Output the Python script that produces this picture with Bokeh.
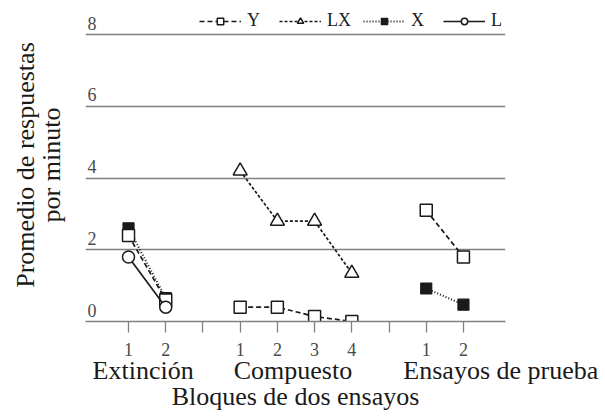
from bokeh.plotting import figure
from bokeh.models import (Range1d, FixedTicker, Legend, LegendItem, LinearAxis)
from bokeh.core.properties import value
from bokeh.embed import file_html
from bokeh.resources import INLINE

# ---- data ----
ext_x = [1, 2]
comp_x = [4, 5, 6, 7]
test_x = [9, 10]

y_ext = [2.4, 0.6]
y_comp = [0.4, 0.4, 0.14, 0.0]
y_test = [3.1, 1.8]
lx_comp = [4.2, 2.8, 2.8, 1.35]
x_ext = [2.6, 0.65]
x_test = [0.92, 0.47]
l_ext = [1.8, 0.4]

x_ticks = [1, 2, 3, 4, 5, 6, 7, 8, 9, 10]
x_tick_labels = ["1", "2", "", "1", "2", "3", "4", "", "1", "2"]
y_ticks = [0, 2, 4, 6, 8]
groups = ["Extinción", "Compuesto", "Ensayos de prueba"]
group_x = [ext_x, comp_x, test_x]
series_names = ["Y", "LX", "X", "L"]
y_title_lines = ["Promedio de respuestas", "por minuto"]
x_title = "Bloques de dos ensayos"

FONT = "serif"
INK = "#1a1a1a"
GRID = "#808080"
TICKTXT = "#4a4a4a"

X0, X1 = -0.156, 11.13
Y0, Y1 = 0.0, 8.73
FRAME_W = 420
px_per_x = FRAME_W / (X1 - X0)

p = figure(width=605, height=416, output_backend="svg", toolbar_location=None,
           x_range=Range1d(X0, X1), y_range=Range1d(Y0, Y1),
           min_border_left=85, min_border_right=100, min_border_top=8,
           min_border_bottom=95)
p.outline_line_color = None

# grid
p.xgrid.visible = False
p.ygrid.ticker = FixedTicker(ticks=y_ticks)
p.ygrid.grid_line_color = GRID
p.ygrid.grid_line_width = 1.6


def title_axis(axis, text, standoff):
    axis.ticker = FixedTicker(ticks=[])
    axis.axis_line_color = None
    axis.major_tick_line_color = None
    axis.minor_tick_line_color = None
    axis.major_tick_in = 0
    axis.major_tick_out = 0
    axis.major_label_text_font_size = "0px"
    axis.axis_label = text
    axis.axis_label_text_font = FONT
    axis.axis_label_text_font_size = "26px"
    axis.axis_label_text_font_style = "normal"
    axis.axis_label_text_color = INK
    axis.axis_label_standoff = standoff


# left axes: only carry the two title lines
title_axis(p.yaxis[0], y_title_lines[1], 20)
ya2 = LinearAxis()
title_axis(ya2, y_title_lines[0], -6)
p.add_layout(ya2, "left")

# bottom axis with block numbers
xa = p.xaxis[0]
xa.ticker = FixedTicker(ticks=x_ticks)
xa.major_label_overrides = {t: l for t, l in zip(x_ticks, x_tick_labels)}
xa.axis_line_color = GRID
xa.axis_line_width = 1.6
xa.major_tick_line_color = GRID
xa.major_tick_line_width = 1.3
xa.major_tick_in = 0
xa.major_tick_out = 11
xa.minor_tick_line_color = None
xa.major_label_standoff = 10
xa.major_label_text_font = FONT
xa.major_label_text_font_size = "18px"
xa.major_label_text_color = TICKTXT

# second bottom axis with the phase names and the title
group_pos = [sum(g) / len(g) for g in group_x]
group_shift_px = [-4, -3, 56]
group_ticks = [c + s / px_per_x for c, s in zip(group_pos, group_shift_px)]
ga = LinearAxis(ticker=FixedTicker(ticks=group_ticks),
                major_label_overrides={t: n for t, n in zip(group_ticks, groups)})
ga.axis_line_color = None
ga.major_tick_line_color = None
ga.minor_tick_line_color = None
ga.major_tick_in = 0
ga.major_tick_out = 0
ga.major_label_standoff = -3
ga.major_label_text_font = FONT
ga.major_label_text_font_size = "26px"
ga.major_label_text_color = INK
ga.axis_label = x_title
ga.axis_label_text_font = FONT
ga.axis_label_text_font_size = "26px"
ga.axis_label_text_font_style = "normal"
ga.axis_label_text_color = INK
ga.axis_label_standoff = -6
p.add_layout(ga, "below")

# y tick labels sitting above the grid lines
p.text(x=[X0] * len(y_ticks), y=y_ticks, text=[str(t) for t in y_ticks],
       x_offset=2, y_offset=-5, text_align="left", text_baseline="bottom",
       text_font=value(FONT), text_font_size="18px", text_color=TICKTXT)

# ---- series ----
lw = 1.7

# X (filled squares, dotted)
r_x_lines, r_x_pts = [], []
for xs, ys in [(ext_x, x_ext), (test_x, x_test)]:
    r_x_lines.append(p.line(xs, ys, line_color=INK, line_width=2, line_dash="1 2"))
for xs, ys in [(ext_x, x_ext), (test_x, x_test)]:
    r_x_pts.append(p.scatter(xs, ys, marker="square", size=11, fill_color=INK,
                             line_color=INK, line_width=1.2))

# Y (open squares, dashed)
r_y_lines, r_y_pts = [], []
for xs, ys in [(ext_x, y_ext), (comp_x, y_comp), (test_x, y_test)]:
    r_y_lines.append(p.line(xs, ys, line_color=INK, line_width=lw, line_dash="5 3"))
for xs, ys in [(ext_x, y_ext), (comp_x, y_comp), (test_x, y_test)]:
    r_y_pts.append(p.scatter(xs, ys, marker="square", size=12, fill_color="white",
                             line_color=INK, line_width=1.5))

# LX (open triangles, short dashes)
r_lx_line = p.line(comp_x, lx_comp, line_color=INK, line_width=lw, line_dash="3 2")
r_lx_pts = p.scatter(comp_x, lx_comp, marker="triangle", size=14, fill_color="white",
                     line_color=INK, line_width=1.5)

# L (open circles, solid)
r_l_line = p.line(ext_x, l_ext, line_color=INK, line_width=lw)
r_l_pts = p.scatter(ext_x, l_ext, marker="circle", size=12, fill_color="white",
                    line_color=INK, line_width=1.5)

legend = Legend(items=[
    LegendItem(label=series_names[0], renderers=[r_y_lines[0], r_y_pts[0]]),
    LegendItem(label=series_names[1], renderers=[r_lx_line, r_lx_pts]),
    LegendItem(label=series_names[2], renderers=[r_x_lines[0], r_x_pts[0]]),
    LegendItem(label=series_names[3], renderers=[r_l_line, r_l_pts]),
], orientation="horizontal", location=(114, 290))
legend.border_line_color = None
legend.background_fill_alpha = 0
legend.margin = 0
legend.padding = 0
legend.spacing = 12
legend.glyph_width = 42
legend.glyph_height = 16
legend.label_standoff = 6
legend.label_text_font = FONT
legend.label_text_font_size = "18px"
legend.label_text_color = INK
p.add_layout(legend, "center")

open("out.html", "w").write(file_html(p, INLINE))
